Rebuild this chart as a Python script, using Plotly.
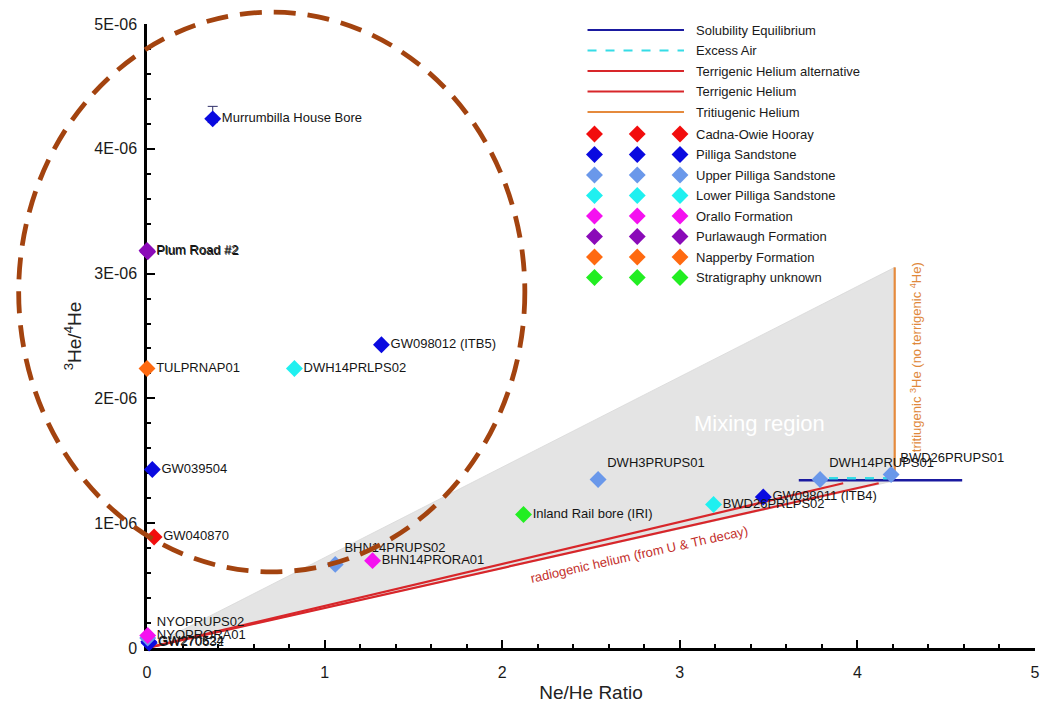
import plotly.graph_objects as go

# ---- Groundwater samples: Ne/He ratio vs 3He/4He ----
sample_names = [
    "Murrumbilla House Bore", "Plum Road #2", "Plum Road #2", "GW098012 (ITB5)",
    "DWH14PRLPS02", "TULPRNAP01", "GW039504", "GW040870", "BHN14PRUPS02",
    "BHN14PRORA01", "Inland Rail bore (IRI)", "DWH3PRUPS01", "BWD26PRLPS02",
    "GW098011 (ITB4)", "DWH14PRUPS01", "BWD26PRUPS01", "NYOPRUPS02",
    "NYOPRORA01", "GW270524", "GW270632",
]
ne_he = [0.37, 0.0, 0.004, 1.32, 0.83, 0.0, 0.03, 0.04, 1.06,
         1.27, 2.12, 2.54, 3.19,
         3.47, 3.79, 4.19, 0.004,
         0.004, 0.01, 0.012]
he3_he4 = [4.24e-6, 3.185e-6, 3.175e-6, 2.43e-6,
           2.24e-6, 2.24e-6, 1.43e-6, 0.89e-6, 0.67e-6,
           0.70e-6, 1.07e-6, 1.35e-6, 1.15e-6,
           1.21e-6, 1.35e-6, 1.39e-6, 0.08e-6,
           0.10e-6, 0.05e-6, 0.04e-6]
he3_err_plus = [0.10e-6, 0, 0, 0, 0, 0, 0, 0, 0, 0, 0, 0, 0, 0, 0, 0, 0, 0, 0, 0]
he3_err_minus = [0.03e-6, 0, 0, 0, 0, 0, 0, 0, 0, 0, 0, 0, 0, 0, 0, 0, 0, 0, 0, 0]
formation = [
    "Pilliga Sandstone", "Purlawaugh Formation", "Purlawaugh Formation", "Pilliga Sandstone",
    "Lower Pilliga Sandstone", "Napperby Formation", "Pilliga Sandstone", "Cadna-Owie Hooray",
    "Upper Pilliga Sandstone", "Orallo Formation", "Stratigraphy unknown",
    "Upper Pilliga Sandstone", "Lower Pilliga Sandstone", "Pilliga Sandstone",
    "Upper Pilliga Sandstone", "Upper Pilliga Sandstone", "Upper Pilliga Sandstone",
    "Orallo Formation", "Pilliga Sandstone", "Pilliga Sandstone",
]
label_pos = [
    "middle right", "middle right", "middle right", "middle right",
    "middle right", "middle right", "middle right", "middle right",
    "top right", "middle right", "middle right", "top right", "middle right",
    "middle right", "top right", "top right", "top right",
    "middle right", "middle right", "middle right",
]

formations = ["Cadna-Owie Hooray", "Pilliga Sandstone", "Upper Pilliga Sandstone",
              "Lower Pilliga Sandstone", "Orallo Formation", "Purlawaugh Formation",
              "Napperby Formation", "Stratigraphy unknown"]
formation_colors = ["#f20d0d", "#0a0ae0", "#6a98ea", "#1ff0f0",
                    "#f511f0", "#8a0ab8", "#ff6a10", "#22ee22"]

# ---- End-member model lines ----
mixing_x = [0.0, 4.21, 4.21, 0.0]
mixing_y = [0.0, 3.05e-6, 1.34e-6, 0.0]
terr_alt_x = [0.0, 3.92]
terr_alt_y = [0.0, 1.32e-6]
terr_x = [0.0, 4.12]
terr_y = [0.0, 1.32e-6]
solub_x = [3.67, 4.59]
solub_y = [1.345e-6, 1.345e-6]
excess_x = [3.84, 4.17]
excess_y = [1.36e-6, 1.36e-6]
trit_x = [4.21, 4.21]
trit_y = [1.37e-6, 3.05e-6]

line_series = ["Solubility Equilibrium", "Excess Air", "Terrigenic Helium alternative",
               "Terrigenic Helium", "Tritiugenic Helium"]
line_colors = ["#1a1aa0", "#35dce6", "#d8262a", "#d8262a", "#e58a3c"]
line_dashes = ["solid", "dash", "solid", "solid", "solid"]

x_ticks = [0, 1, 2, 3, 4, 5]
y_ticks = [0, 1e-6, 2e-6, 3e-6, 4e-6, 5e-6]
y_ticktext = ["0", "1E-06", "2E-06", "3E-06", "4E-06", "5E-06"]

FONT = "Arial, Liberation Sans, sans-serif"

fig = go.Figure()

# shaded mixing region
fig.add_trace(go.Scatter(x=mixing_x, y=mixing_y, mode="lines", fill="toself",
                         fillcolor="#e4e4e4", line=dict(color="#d8d8d8", width=0.8),
                         hoverinfo="skip", showlegend=False))

# model lines
for xs, ys, c, d, w in [
    (terr_alt_x, terr_alt_y, line_colors[2], "solid", 2.2),
    (terr_x, terr_y, line_colors[3], "solid", 2.2),
    (solub_x, solub_y, line_colors[0], "solid", 2.5),
    (excess_x, excess_y, line_colors[1], "dash", 2.5),
    (trit_x, trit_y, line_colors[4], "solid", 2.2),
]:
    fig.add_trace(go.Scatter(x=xs, y=ys, mode="lines", line=dict(color=c, width=w, dash=d),
                             hoverinfo="skip", showlegend=False))

# samples, one trace per formation
for f, col in zip(formations, formation_colors):
    idx = [i for i, v in enumerate(formation) if v == f]
    if not idx:
        continue
    err_plus = [he3_err_plus[i] for i in idx]
    err_minus = [he3_err_minus[i] for i in idx]
    fig.add_trace(go.Scatter(
        x=[ne_he[i] for i in idx], y=[he3_he4[i] for i in idx],
        mode="markers+text", text=[sample_names[i] for i in idx],
        textposition=[label_pos[i] for i in idx],
        textfont=dict(family=FONT, size=13, color="#151515"),
        marker=dict(symbol="diamond", size=13, color=col, line=dict(width=0)),
        error_y=dict(type="data", symmetric=False, array=err_plus, arrayminus=err_minus,
                     color="#30306a", thickness=1, width=5, visible=any(err_plus)),
        cliponaxis=False, name=f, showlegend=False,
    ))

# ---- key drawn in a pixel-scaled overlay frame ----
row_y0, row_dy = 30, 20.5
key_rows = line_series + formations
for k, name in enumerate(key_rows):
    yy = row_y0 + k * row_dy + (1.5 if k >= len(line_series) else 0)
    if k < len(line_series):
        fig.add_trace(go.Scatter(x=[590, 687], y=[yy, yy], mode="lines",
                                 line=dict(color=line_colors[k], width=2.2, dash=line_dashes[k]),
                                 xaxis="x2", yaxis="y2", hoverinfo="skip", showlegend=False,
                                 cliponaxis=False))
    else:
        col = formation_colors[k - len(line_series)]
        fig.add_trace(go.Scatter(x=[597, 640, 683], y=[yy] * 3, mode="markers",
                                 marker=dict(symbol="diamond", size=13, color=col),
                                 xaxis="x2", yaxis="y2", hoverinfo="skip", showlegend=False,
                                 cliponaxis=False))
    fig.add_annotation(x=697, y=yy, xref="x2", yref="y2", text=name, showarrow=False,
                       xanchor="left", yanchor="middle",
                       font=dict(family=FONT, size=13, color="#1a1a1a"))

# region / process labels
fig.add_annotation(x=3.45, y=1.795e-6, text="Mixing region", showarrow=False,
                   font=dict(family=FONT, size=22, color="white"))
fig.add_annotation(x=2.77, y=0.75e-6, text="radiogenic helium (from U & Th decay)",
                   showarrow=False, textangle=-12.5,
                   font=dict(family=FONT, size=13, color="#c4302c"))
fig.add_annotation(x=4.33, y=2.33e-6,
                   text="tritiugenic <sup>3</sup>He (no terrigenic <sup>4</sup>He)",
                   showarrow=False, textangle=-90,
                   font=dict(family=FONT, size=13, color="#e0883a"))

# dashed highlight ellipse around the high-3He samples
fig.add_shape(type="circle", xref="paper", yref="paper",
              x0=-0.1445, x1=0.4255, y0=0.122, y1=1.019,
              line=dict(color="#a3430f", width=4.8, dash="22px,12px"), layer="above")

axis_common = dict(showline=True, linecolor="black", linewidth=2.5, mirror=False,
                   showgrid=False, zeroline=False, ticks="inside", ticklen=8,
                   tickwidth=2, tickcolor="black", layer="below traces",
                   tickfont=dict(family=FONT, size=16, color="#1a1a1a"))

fig.update_layout(
    width=1047, height=707,
    margin=dict(l=147, r=7, t=24, b=59),
    paper_bgcolor="white", plot_bgcolor="white",
    showlegend=False,
    xaxis=dict(range=[0, 5], tickvals=x_ticks, ticktext=[str(v) for v in x_ticks],
               ticklabelstandoff=8,
               minor=dict(ticks="inside", ticklen=4, tickwidth=2, dtick=0.2, tickcolor="black"),
               title=dict(text="Ne/He Ratio", font=dict(family=FONT, size=19, color="#222"),
                          standoff=6),
               **axis_common),
    yaxis=dict(range=[0, 5e-6], tickvals=y_ticks, ticktext=y_ticktext,
               ticklabelstandoff=4,
               minor=dict(ticks="inside", ticklen=4, tickwidth=2, dtick=0.2e-6, tickcolor="black"),
               title=dict(text="<sup>3</sup>He/<sup>4</sup>He",
                          font=dict(family=FONT, size=19, color="#222"), standoff=8),
               **axis_common),
    xaxis2=dict(overlaying="x", range=[147, 1040], visible=False, fixedrange=True),
    yaxis2=dict(overlaying="y", range=[648, 24], visible=False, fixedrange=True),
)

fig.write_html("out.html")
